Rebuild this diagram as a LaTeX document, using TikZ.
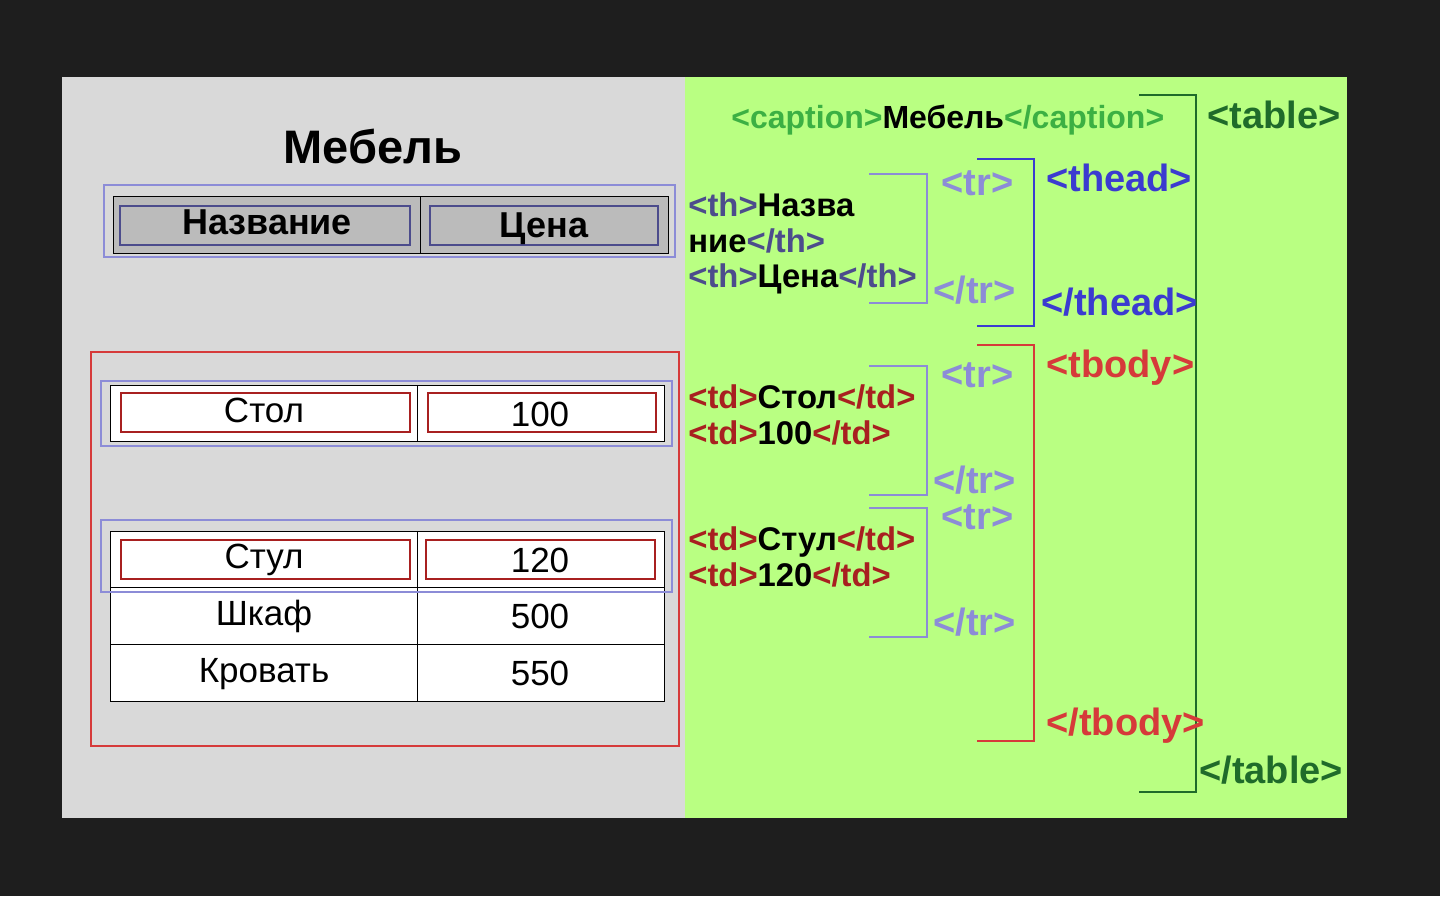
\documentclass[tikz,border=0pt]{standalone}
\usepackage{fontspec}
\setmainfont{Liberation Sans}
\usepackage{tikz}
\usetikzlibrary{positioning}
\usepackage{xcolor}
\definecolor{darkbg}{RGB}{30,30,30}
\definecolor{panelgray}{RGB}{217,217,217}
\definecolor{panelgreen}{RGB}{185,255,130}
\definecolor{headfill}{RGB}{187,187,187}
\definecolor{thcol}{RGB}{76,76,140}
\definecolor{trcol}{RGB}{140,140,215}
\definecolor{theadcol}{RGB}{59,59,208}
\definecolor{tbodycol}{RGB}{214,58,58}
\definecolor{tdcol}{RGB}{168,32,32}
\definecolor{captcol}{RGB}{60,176,67}
\definecolor{tablecol}{RGB}{31,107,42}

\begin{document}
\begin{tikzpicture}[
  x=0.5pt, y=-0.5pt,
  code/.style={font=\fontsize{16.4}{19}\selectfont\bfseries, anchor=base west, inner sep=0pt},
  tagl/.style={font=\fontsize{19}{22}\selectfont\bfseries, anchor=base west, inner sep=0pt},
  cell/.style={font=\fontsize{17.5}{21}\selectfont, anchor=base, inner sep=0pt},
  hcell/.style={font=\fontsize{18}{21}\selectfont\bfseries, anchor=base, inner sep=0pt},
  grid/.style={draw=black, line width=0.5pt},
  rowbox/.style={draw=trcol, line width=1pt},
  tdbox/.style={draw=tdcol, line width=1pt},
  thbox/.style={draw=thcol, line width=1pt},
  bracket/.style={line width=1pt},
]
% Background panels
\fill[darkbg] (0,0) rectangle (1440,896);
\useasboundingbox (0,0) rectangle (1440,896);
\fill[panelgray] (62,77) rectangle (685,818);
\fill[panelgreen] (685,77) rectangle (1347,818);

% Rendered table: caption
\node[font=\fontsize{23.5}{28}\selectfont\bfseries, anchor=base] (title) at (373,163) {Мебель};

% Rendered table: head
\draw[grid, fill=headfill] (113,196) rectangle (668,253);
\draw[grid] (420,196) -- (420,253);
\draw[thbox] (120,206) rectangle (410,245);
\draw[thbox] (430,206) rectangle (658,245);
\draw[rowbox] (104,185) rectangle (675,257);
\node[hcell] (hname) at (267,234) {Название};
\node[hcell] (hprice) at (544,237) {Цена};

% Rendered table: body
\draw[grid, fill=white] (110,385) rectangle (664,441);
\draw[grid] (417.5,385) -- (417.5,441);
\draw[grid, fill=white] (110,531) rectangle (664,701);
\draw[grid] (417.5,531) -- (417.5,701);
\draw[grid] (110,587) -- (664,587);
\draw[grid] (110,644) -- (664,644);
\draw[tdbox] (121,393) rectangle (410,432);
\draw[tdbox] (428,393) rectangle (656,432);
\draw[tdbox] (121,540) rectangle (410,579);
\draw[tdbox] (426,540) rectangle (655,579);
\draw[rowbox] (101,381) rectangle (672,446);
\draw[rowbox] (101,520) rectangle (672,592);
\draw[draw=tbodycol, line width=1pt] (91,352) rectangle (679,746);

\node[cell] (c11) at (264,422) {Стол};
\node[cell] (c12) at (540,426) {100};
\node[cell] (c21) at (264,568) {Стул};
\node[cell] (c22) at (540,572) {120};
\node[cell] (c31) at (264,625) {Шкаф};
\node[cell] (c32) at (540,628) {500};
\node[cell] (c41) at (264,682) {Кровать};
\node[cell] (c42) at (540,685) {550};

% Markup: caption and cells
\node[code, font=\fontsize{16}{19}\selectfont\bfseries] (capt) at (731,128)
  {\textcolor{captcol}{<caption>}Мебель\textcolor{captcol}{</caption>}};
\node[code] (th1) at (688,216) {\textcolor{thcol}{<th>}Назва};
\node[code] (th2) at (688,252) {ние\textcolor{thcol}{</th>}};
\node[code] (th3) at (688,287) {\textcolor{thcol}{<th>}Цена\textcolor{thcol}{</th>}};
\node[code] (td1) at (688,408) {\textcolor{tdcol}{<td>}Стол\textcolor{tdcol}{</td>}};
\node[code] (td2) at (688,444) {\textcolor{tdcol}{<td>}100\textcolor{tdcol}{</td>}};
\node[code] (td3) at (688,550) {\textcolor{tdcol}{<td>}Стул\textcolor{tdcol}{</td>}};
\node[code] (td4) at (688,586) {\textcolor{tdcol}{<td>}120\textcolor{tdcol}{</td>}};

% Markup: row brackets
\draw[bracket, trcol] (869,174) -| (927,303) -- (869,303);
\draw[bracket, trcol] (869,366) -| (927,495) -- (869,495);
\draw[bracket, trcol] (869,508) -| (927,637) -- (869,637);
\node[tagl, text=trcol] (tro0) at (941,195) {<tr>};
\node[tagl, text=trcol] (trc0) at (933,303) {</tr>};
\node[tagl, text=trcol] (tro1) at (941,387) {<tr>};
\node[tagl, text=trcol] (trc1) at (933,493) {</tr>};
\node[tagl, text=trcol] (tro2) at (941,529) {<tr>};
\node[tagl, text=trcol] (trc2) at (933,635) {</tr>};

% Markup: thead / tbody / table
\draw[bracket, theadcol] (977,159) -| (1034,326) -- (977,326);
\draw[bracket, tbodycol] (977,345) -| (1034,741) -- (977,741);
\draw[bracket, tablecol] (1139,95) -| (1196,792) -- (1139,792);
\node[tagl, text=theadcol] (theado) at (1046,191) {<thead>};
\node[tagl, text=theadcol] (theadc) at (1041,315) {</thead>};
\node[tagl, text=tbodycol] (tbodyo) at (1046,377) {<tbody>};
\node[tagl, text=tbodycol] (tbodyc) at (1046,735) {</tbody>};
\node[tagl, text=tablecol] (tableo) at (1207,128) {<table>};
\node[tagl, text=tablecol] (tablec) at (1199,783) {</table>};
\end{tikzpicture}
\end{document}
